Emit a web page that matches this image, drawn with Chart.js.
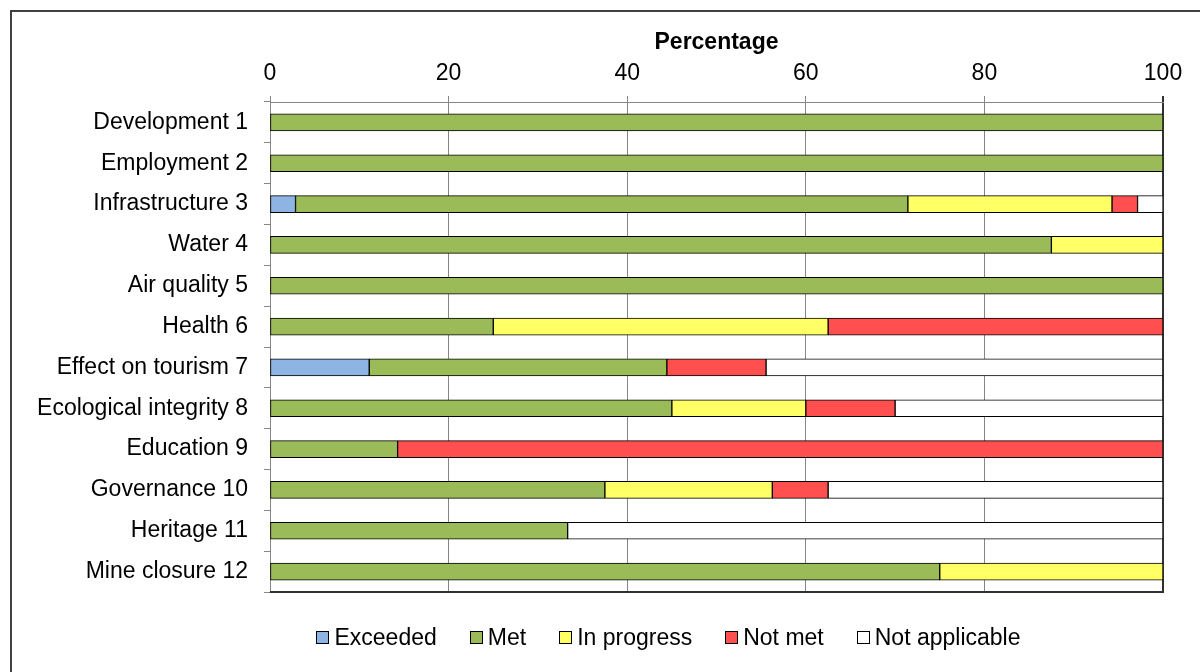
<!DOCTYPE html>
<html>
<head>
<meta charset="utf-8">
<script src="https://cdn.jsdelivr.net/npm/chart.js@4/dist/chart.umd.min.js"></script>
<style>
  html, body { margin: 0; padding: 0; background: #fff; }
  #wrap { position: relative; width: 1200px; height: 672px; overflow: hidden; font-family: "Liberation Sans", Arial, sans-serif; }
  #frame { position: absolute; left: 10px; top: 10px; width: 1300px; height: 800px; border: 2px solid #404040; box-sizing: border-box; pointer-events: none; }
  canvas { position: absolute; left: 0; top: 0; }
  #legend { position: absolute; left: 136px; width: 1065px; top: 623px; display: flex; justify-content: center; gap: 33px; font-size: 23px; line-height: 28px; color: #000; }
  #legend .item { display: flex; align-items: center; white-space: nowrap; }
  #legend .box { width: 13px; height: 13px; border: 1px solid #000; box-sizing: border-box; margin-right: 5px; margin-top: 1px; }
</style>
</head>
<body>
<div id="wrap">
  <canvas id="chart" width="1200" height="672"></canvas>
  <div id="legend"></div>
  <div id="frame"></div>
</div>
<script>
// Objectives and share of each outcome (percent)
const categories = [
  'Development 1', 'Employment 2', 'Infrastructure 3', 'Water 4', 'Air quality 5',
  'Health 6', 'Effect on tourism 7', 'Ecological integrity 8', 'Education 9',
  'Governance 10', 'Heritage 11', 'Mine closure 12'
];
const exceeded      = [0, 0, 2.86, 0, 0, 0, 11.11, 0, 0, 0, 0, 0];
const met           = [100, 100, 68.57, 87.5, 100, 25, 33.33, 45, 14.29, 37.5, 33.33, 75];
const inProgress    = [0, 0, 22.86, 12.5, 0, 37.5, 0, 15, 0, 18.75, 0, 25];
const notMet        = [0, 0, 2.86, 0, 0, 37.5, 11.11, 10, 85.71, 6.25, 0, 0];
const notApplicable = [0, 0, 2.86, 0, 0, 0, 44.44, 30, 0, 37.5, 66.67, 0];
const xTicks = [0, 20, 40, 60, 80, 100];

const seriesNames = ['Exceeded', 'Met', 'In progress', 'Not met', 'Not applicable'];
const seriesValues = [exceeded, met, inProgress, notMet, notApplicable];
const seriesColors = ['#8DB4E2', '#9BBB59', '#FFFF66', '#FF4F4F', '#FFFFFF'];

const FONT = '"Liberation Sans", Arial, sans-serif';
const GRID = '#868686';

// Dark line along the bottom of the plot area
const plotFrame = {
  id: 'plotFrame',
  afterDatasetsDraw(chart) {
    const { ctx, chartArea: a } = chart;
    ctx.save();
    ctx.strokeStyle = '#303030';
    ctx.lineWidth = 2;
    ctx.beginPath();
    ctx.moveTo(a.left, a.bottom);
    ctx.lineTo(a.right + 1, a.bottom);
    ctx.stroke();
    ctx.restore();
  }
};

const chart = new Chart(document.getElementById('chart'), {
  type: 'bar',
  data: {
    labels: categories,
    datasets: seriesNames.map((name, i) => ({
      label: name,
      data: seriesValues[i],
      backgroundColor: seriesColors[i],
      borderColor: '#000',
      borderWidth: 1,
      borderSkipped: false,
      barThickness: 17
    }))
  },
  options: {
    indexAxis: 'y',
    responsive: false,
    animation: false,
    layout: { padding: { top: 0, left: 0, right: 37, bottom: 80 } },
    plugins: {
      legend: { display: false },
      tooltip: { enabled: false }
    },
    scales: {
      x: {
        position: 'top',
        stacked: true,
        min: 0,
        max: 100,
        afterBuildTicks(scale) { scale.ticks = xTicks.map(v => ({ value: v })); },
        afterFit(scale) { scale.height = 102; },
        title: {
          display: true,
          text: 'Percentage',
          color: '#000',
          font: { family: FONT, size: 23, weight: 'bold' },
          padding: { top: 29, bottom: 0 }
        },
        ticks: {
          color: '#000',
          font: { family: FONT, size: 23 },
          padding: 9
        },
        grid: {
          color: ctx => (ctx.tick && ctx.tick.value === 100 ? '#303030' : GRID),
          lineWidth: ctx => (ctx.tick && ctx.tick.value === 100 ? 2 : 1),
          tickLength: 6
        },
        border: { color: GRID, width: 1 }
      },
      y: {
        stacked: true,
        afterFit(scale) { scale.width = 270; },
        ticks: {
          color: '#000',
          font: { family: FONT, size: 23 },
          padding: 16
        },
        grid: {
          offset: true,
          drawOnChartArea: false,
          color: GRID,
          tickLength: 6
        },
        border: { color: GRID, width: 1 }
      }
    }
  },
  plugins: [plotFrame]
});

// Legend built from the chart's datasets
const legendEl = document.getElementById('legend');
chart.data.datasets.forEach(ds => {
  const item = document.createElement('div');
  item.className = 'item';
  const box = document.createElement('span');
  box.className = 'box';
  box.style.background = ds.backgroundColor;
  const text = document.createElement('span');
  text.textContent = ds.label;
  item.appendChild(box);
  item.appendChild(text);
  legendEl.appendChild(item);
});
</script>
</body>
</html>
